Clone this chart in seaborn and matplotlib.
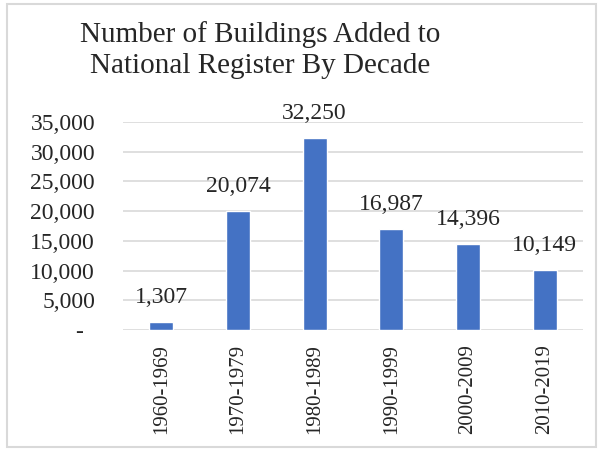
import matplotlib
matplotlib.use("Agg")
import matplotlib.pyplot as plt
import seaborn as sns
import pandas as pd
from matplotlib.patches import Rectangle

decades = ["1960-1969", "1970-1979", "1980-1989", "1990-1999", "2000-2009", "2010-2019"]
buildings = [1307, 20074, 32250, 16987, 14396, 10149]
y_ticks = [0, 5000, 10000, 15000, 20000, 25000, 30000, 35000]
title_lines = ["Number of Buildings Added to", "National Register By Decade"]

sns.set_style("white")
plt.rcParams["font.family"] = ["Liberation Serif", "DejaVu Serif"]

df = pd.DataFrame({"decade": decades, "count": buildings})

W, H = 601, 451
PX = 72 / 100  # points per pixel
fig = plt.figure(figsize=(W / 100, H / 100), dpi=100)
ax = fig.add_axes([123 / W, 1 - 330 / H, 460 / W, 208 / H])

sns.barplot(data=df, x="decade", y="count", color="#4472C4", saturation=1,
            width=0.31, ax=ax, zorder=3)

ax.set_ylim(0, 35000)
ax.set_yticks(y_ticks)
ax.set_yticklabels(["-" if v == 0 else f"{v:,}" for v in y_ticks], fontsize=17)
for lbl in ax.get_yticklabels():
    if lbl.get_text() == "-":
        lbl.set_x(-12 / 460)
ax.tick_params(axis="y", length=0, pad=28 * PX)
ax.tick_params(axis="x", length=0, pad=14 * PX)
ax.set_xticks(range(len(decades)))
ax.set_xticklabels(decades, rotation=90, fontsize=15)
ax.set_xlabel("")
ax.set_ylabel("")
ax.grid(axis="y", color="#D9D9D9", linewidth=1.2, zorder=0)
ax.set_axisbelow(True)
for s in ax.spines.values():
    s.set_visible(False)

for i, v in enumerate(buildings):
    ax.annotate(f"{v:,}", xy=(i, v), xytext=(0, 19 * PX), textcoords="offset points",
                ha="center", va="baseline", fontsize=17)

fig.text(260 / W, 1 - 42 / H, title_lines[0], ha="center", va="baseline", fontsize=21)
fig.text(260 / W, 1 - 73 / H, title_lines[1], ha="center", va="baseline", fontsize=21)

fig.patches.append(Rectangle((6.5 / W, 1 - 447 / H), 589 / W, 443 / H,
                             transform=fig.transFigure, fill=False,
                             edgecolor="#D9D9D9", linewidth=1.5))

fig.savefig("out.png", dpi=100)
